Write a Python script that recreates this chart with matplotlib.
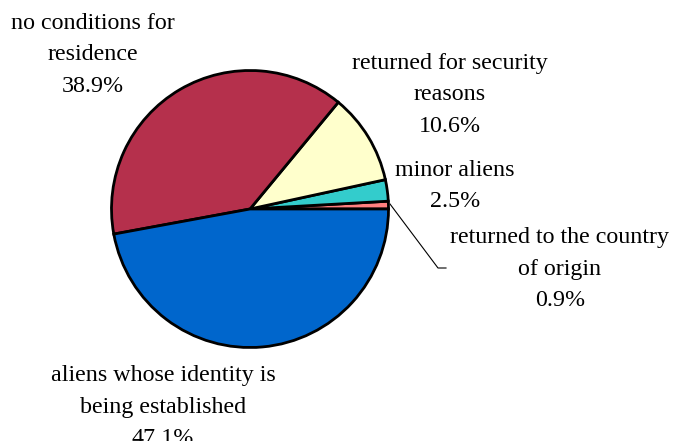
import matplotlib
matplotlib.use("Agg")
import matplotlib.pyplot as plt

labels = ["returned to the country\nof origin", "minor aliens",
          "returned for security\nreasons", "no conditions for\nresidence",
          "aliens whose identity is\nbeing established"]
values = [0.9, 2.5, 10.6, 38.9, 47.1]
colors = ["#FF8080", "#33CCCC", "#FFFFCC", "#B5304C", "#0066CC"]

W, H = 673, 441
fig = plt.figure(figsize=(W / 100, H / 100), dpi=100)
ax = fig.add_axes([0, 0, 1, 1])
ax.set_xlim(0, W)
ax.set_ylim(0, H)
ax.set_aspect("equal")
ax.axis("off")

cx, cy, r = 250, H - 209, 138.5
ax.pie(values, colors=colors, startangle=0, counterclock=True,
       center=(cx, cy), radius=r,
       wedgeprops=dict(edgecolor="black", linewidth=2))
ax.set_xlim(0, W)
ax.set_ylim(0, H)

font = dict(family="Liberation Serif", fontsize=17.3, ha="center", va="center",
            linespacing=1.66)
pos = [(560, 269), (455, 186), (450, 95), (93, 55), (163, 407)]
for lab, v, (x, y) in zip(labels, values, pos):
    ax.text(x, H - y, f"{lab}\n{v:.1f}%", **font)

# leader line for smallest slice
ax.plot([390, 438, 446], [H - 204, H - 268, H - 268], color="black", lw=0.8)

fig.savefig("out.png", dpi=100)
